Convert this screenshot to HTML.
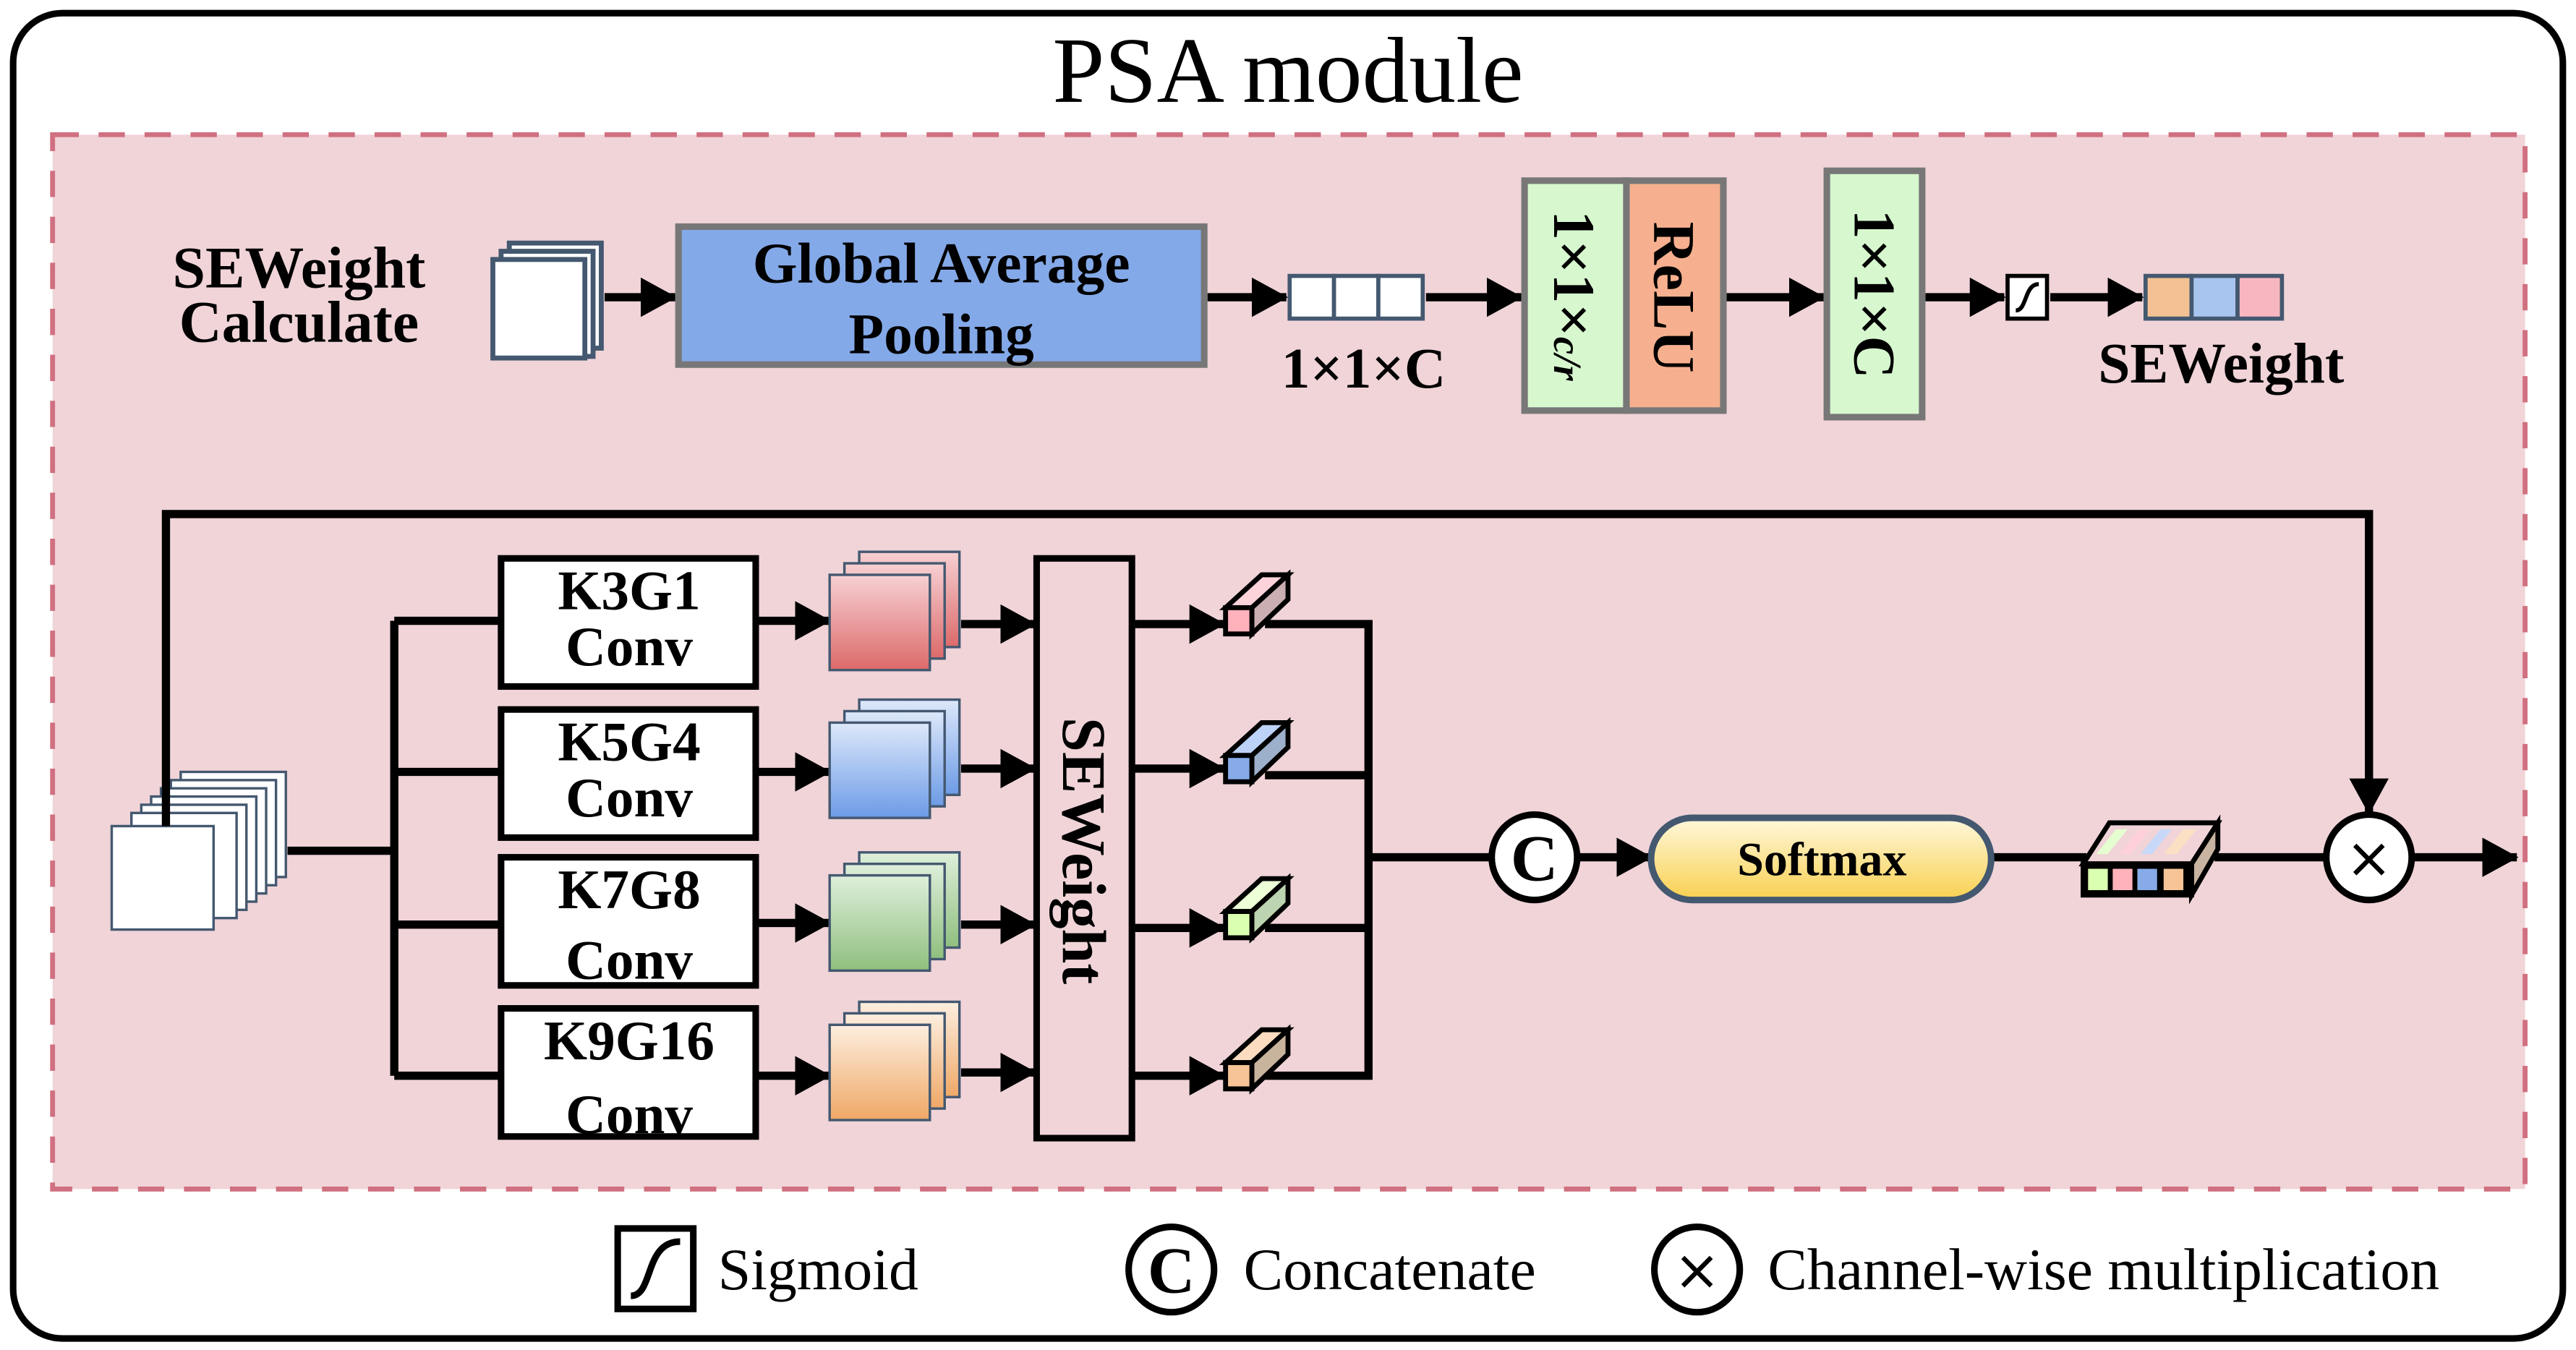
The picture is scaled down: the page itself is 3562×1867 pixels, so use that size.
<!DOCTYPE html>
<html><head><meta charset="utf-8"><style>html,body{margin:0;padding:0;background:#fff}svg{display:block}</style></head>
<body>
<svg width="3562" height="1867" viewBox="0 0 1568 822" preserveAspectRatio="none" xmlns="http://www.w3.org/2000/svg" font-family="'Liberation Serif',serif">
<defs>
<marker id="a" viewBox="0 0 22 24" refX="21" refY="12" markerWidth="22" markerHeight="24" markerUnits="userSpaceOnUse" orient="auto"><path d="M0,0 L22,12 L0,24 z" fill="#000"/></marker>
<linearGradient id="gr" x1="0" y1="0" x2="0" y2="1"><stop offset="0" stop-color="#f7d0d3"/><stop offset="1" stop-color="#dc6a6a"/></linearGradient>
<linearGradient id="gb" x1="0" y1="0" x2="0" y2="1"><stop offset="0" stop-color="#dde8fa"/><stop offset="1" stop-color="#6c9be6"/></linearGradient>
<linearGradient id="gg" x1="0" y1="0" x2="0" y2="1"><stop offset="0" stop-color="#deefdb"/><stop offset="1" stop-color="#8fbf7e"/></linearGradient>
<linearGradient id="go" x1="0" y1="0" x2="0" y2="1"><stop offset="0" stop-color="#fdeedf"/><stop offset="1" stop-color="#efa866"/></linearGradient>
<linearGradient id="gy" x1="0" y1="0" x2="0" y2="1"><stop offset="0" stop-color="#fff8dc"/><stop offset="1" stop-color="#f8d050"/></linearGradient>
</defs>
<rect x="8" y="8" width="1552" height="807" rx="30" fill="#fff" stroke="#000" stroke-width="4"/>
<text x="784" y="62" font-size="57" text-anchor="middle">PSA module</text>
<rect x="32" y="82" width="1505" height="642" fill="#f0d4d8" stroke="#d07080" stroke-width="3" stroke-dasharray="16,12"/>

<g font-weight="bold" font-size="36" text-anchor="middle">
<text x="182" y="175">SEWeight</text><text x="182" y="208">Calculate</text>
</g>
<g fill="#fff" stroke="#445870" stroke-width="3">
<rect x="310" y="148" width="56" height="64"/><rect x="305" y="153" width="56" height="64"/><rect x="300" y="158" width="56" height="60"/>
</g>
<g stroke="#000" stroke-width="5" fill="none" marker-end="url(#a)">
<line x1="368" y1="181" x2="411" y2="181"/>
<line x1="735" y1="181" x2="783" y2="181"/>
<line x1="868" y1="181" x2="926" y2="181"/>
<line x1="1051" y1="181" x2="1110" y2="181"/>
<line x1="1172" y1="181" x2="1220" y2="181"/>
<line x1="1248" y1="181" x2="1304" y2="181"/>
</g>
<rect x="413" y="138" width="320" height="84" fill="#84a9e8" stroke="#777" stroke-width="4"/>
<g font-weight="bold" font-size="35" text-anchor="middle">
<text x="573" y="172">Global Average</text><text x="573" y="215">Pooling</text>
<text x="830" y="236">1×1×C</text>
<text x="1352" y="233">SEWeight</text>
</g>
<g fill="#fff" stroke="#445870" stroke-width="2.5"><rect x="785" y="168" width="27" height="26"/><rect x="812" y="168" width="27" height="26"/><rect x="839" y="168" width="27" height="26"/></g>
<rect x="928" y="110" width="62" height="140" fill="#d7f7cf" stroke="#777" stroke-width="4"/>
<rect x="990" y="110" width="59" height="140" fill="#f6b08f" stroke="#777" stroke-width="4"/>
<rect x="1112" y="104" width="58" height="150" fill="#d7f7cf" stroke="#777" stroke-width="4"/>
<g font-weight="bold" font-size="36">
<text transform="translate(946,180) rotate(90)" text-anchor="middle">1×1×<tspan font-size="24" font-style="italic">c/r</tspan></text>
<text transform="translate(1007,181) rotate(90)" text-anchor="middle">ReLU</text>
<text transform="translate(1129,179) rotate(90)" text-anchor="middle">1×1×C</text>
</g>
<rect x="1222" y="168" width="24" height="26" fill="#fff" stroke="#000" stroke-width="2.5"/>
<path d="M1227,189 C1234,189 1232,173 1241,173" stroke="#000" stroke-width="2.5" fill="none"/>
<g stroke="#445870" stroke-width="2.5"><rect x="1306" y="168" width="28" height="26" fill="#f3c194"/><rect x="1334" y="168" width="28" height="26" fill="#a8c5f0"/><rect x="1362" y="168" width="27" height="26" fill="#f8b7c0"/></g>

<g fill="#fff" stroke="#445870" stroke-width="1.5">
<rect x="110" y="470" width="64" height="64"/><rect x="104" y="475" width="64" height="64"/><rect x="98" y="480" width="64" height="64"/><rect x="92" y="485" width="64" height="64"/><rect x="86" y="490" width="64" height="64"/><rect x="80" y="495" width="64" height="64"/><rect x="68" y="503" width="62" height="63"/>
</g>
<g stroke="#000" stroke-width="5" fill="none">
<polyline points="101,503 101,313 1442,313 1442,495" marker-end="url(#a)"/>
<line x1="175" y1="518" x2="240" y2="518"/>
<line x1="240" y1="378" x2="240" y2="655"/>
<line x1="240" y1="378" x2="305" y2="378"/><line x1="240" y1="470" x2="305" y2="470"/><line x1="240" y1="563" x2="305" y2="563"/><line x1="240" y1="655" x2="305" y2="655"/>
<g marker-end="url(#a)">
<line x1="460" y1="378" x2="505" y2="378"/><line x1="460" y1="470" x2="505" y2="470"/><line x1="460" y1="562" x2="505" y2="562"/><line x1="460" y1="655" x2="505" y2="655"/>
<line x1="585" y1="380" x2="630" y2="380"/><line x1="585" y1="468" x2="630" y2="468"/><line x1="585" y1="563" x2="630" y2="563"/><line x1="585" y1="653" x2="630" y2="653"/>
<line x1="689" y1="380" x2="745" y2="380"/><line x1="689" y1="468" x2="745" y2="468"/><line x1="689" y1="565" x2="745" y2="565"/><line x1="689" y1="655" x2="745" y2="655"/>
<line x1="960" y1="522" x2="1005" y2="522"/>
<line x1="1468" y1="522" x2="1532" y2="522"/>
</g>
<polyline points="770,380 833,380 833,655 770,655"/>
<line x1="770" y1="472" x2="833" y2="472"/><line x1="770" y1="565" x2="833" y2="565"/>
<line x1="833" y1="522" x2="908" y2="522"/>
<line x1="1212" y1="522" x2="1270" y2="522"/>
<line x1="1348" y1="522" x2="1416" y2="522"/>
</g>
<g fill="#fff" stroke="#000" stroke-width="4">
<rect x="305" y="340" width="155" height="78"/><rect x="305" y="432" width="155" height="78"/><rect x="305" y="522" width="155" height="78"/><rect x="305" y="614" width="155" height="78"/>
</g>
<g font-weight="bold" font-size="34" text-anchor="middle">
<text x="383" y="371">K3G1</text><text x="383" y="405">Conv</text>
<text x="383" y="463">K5G4</text><text x="383" y="497">Conv</text>
<text x="383" y="553">K7G8</text><text x="383" y="596">Conv</text>
<text x="383" y="645">K9G16</text><text x="383" y="690">Conv</text>
</g>
<g stroke="#445870" stroke-width="1.5">
<g fill="url(#gr)"><rect x="523" y="336" width="61" height="58"/><rect x="514" y="343" width="61" height="58"/><rect x="505" y="350" width="61" height="58"/></g>
<g fill="url(#gb)"><rect x="523" y="426" width="61" height="58"/><rect x="514" y="433" width="61" height="58"/><rect x="505" y="440" width="61" height="58"/></g>
<g fill="url(#gg)"><rect x="523" y="519" width="61" height="58"/><rect x="514" y="526" width="61" height="58"/><rect x="505" y="533" width="61" height="58"/></g>
<g fill="url(#go)"><rect x="523" y="610" width="61" height="58"/><rect x="514" y="617" width="61" height="58"/><rect x="505" y="624" width="61" height="58"/></g>
</g>
<rect x="631" y="340" width="58" height="353" fill="#f0d4d8" stroke="#000" stroke-width="4"/>
<text transform="translate(647,518) rotate(90)" text-anchor="middle" font-weight="bold" font-size="38">SEWeight</text>
<g stroke="#000" stroke-width="3">
<g transform="translate(746,348)"><path d="M0,22 L22,2 L38,2 L16,22 z" fill="#fcd3da"/><path d="M16,22 L38,2 L38,17 L16,38 z" fill="#caaeb2"/><rect x="0" y="22" width="16" height="16" fill="#ffb2bb"/></g>
<g transform="translate(746,438)"><path d="M0,22 L22,2 L38,2 L16,22 z" fill="#bcd2f6"/><path d="M16,22 L38,2 L38,17 L16,38 z" fill="#9cb0cc"/><rect x="0" y="22" width="16" height="16" fill="#86abe8"/></g>
<g transform="translate(746,533)"><path d="M0,22 L22,2 L38,2 L16,22 z" fill="#ecffd6"/><path d="M16,22 L38,2 L38,17 L16,38 z" fill="#bdd4b0"/><rect x="0" y="22" width="16" height="16" fill="#daffb0"/></g>
<g transform="translate(746,625)"><path d="M0,22 L22,2 L38,2 L16,22 z" fill="#fbdcc0"/><path d="M16,22 L38,2 L38,17 L16,38 z" fill="#c8b39c"/><rect x="0" y="22" width="16" height="16" fill="#f6c496"/></g>
</g>
<circle cx="934" cy="522" r="26" fill="#fff" stroke="#000" stroke-width="4"/>
<text x="934" y="536" font-size="40" font-weight="bold" text-anchor="middle">C</text>
<rect x="1005" y="498" width="207" height="50" rx="25" fill="url(#gy)" stroke="#445870" stroke-width="4"/>
<text x="1109" y="533" font-size="29" font-weight="bold" text-anchor="middle">Softmax</text>
<g stroke="#000" stroke-width="3">
<path d="M1268,526 L1284,501 L1350,501 L1334,526 z" fill="#f0d4d8"/>
<path d="M1276,520 L1288,505 L1295,505 L1283,520 z" fill="#e6ffd0" stroke-width="0"/>
<path d="M1290,520 L1302,505 L1309,505 L1297,520 z" fill="#ffd0da" stroke-width="0"/>
<path d="M1303,520 L1315,505 L1322,505 L1310,520 z" fill="#c8d8f8" stroke-width="0"/>
<path d="M1317,520 L1329,505 L1337,505 L1325,520 z" fill="#fbe0c4" stroke-width="0"/>
<path d="M1334,526 L1350,501 L1350,517 L1334,545 z" fill="#c8b4a0"/>
<rect x="1268" y="526" width="66" height="19" fill="#000"/>
<rect x="1271" y="529" width="12" height="13" fill="#daffb0" stroke-width="0"/>
<rect x="1286" y="529" width="12" height="13" fill="#ffb2bb" stroke-width="0"/>
<rect x="1301" y="529" width="12" height="13" fill="#86abe8" stroke-width="0"/>
<rect x="1317" y="529" width="12" height="13" fill="#f6c496" stroke-width="0"/>
</g>
<circle cx="1442" cy="522" r="26" fill="#fff" stroke="#000" stroke-width="4"/>
<text x="1442" y="534" font-size="34" text-anchor="middle" font-family="'DejaVu Sans',sans-serif">×</text>
<rect x="376" y="748" width="46" height="49" fill="#fff" stroke="#000" stroke-width="4"/>
<path d="M384,789 C398,789 392,756 414,756" stroke="#000" stroke-width="4" fill="none"/>
<g font-size="36">
<text x="437" y="785">Sigmoid</text>
<text x="757" y="785">Concatenate</text>
<text x="1076" y="785">Channel-wise multiplication</text>
</g>
<circle cx="713" cy="773" r="26" fill="#fff" stroke="#000" stroke-width="4"/>
<text x="713" y="787" font-size="40" font-weight="bold" text-anchor="middle">C</text>
<circle cx="1033" cy="773" r="26" fill="#fff" stroke="#000" stroke-width="4"/>
<text x="1033" y="785" font-size="34" text-anchor="middle" font-family="'DejaVu Sans',sans-serif">×</text>
</svg>
</body></html>
